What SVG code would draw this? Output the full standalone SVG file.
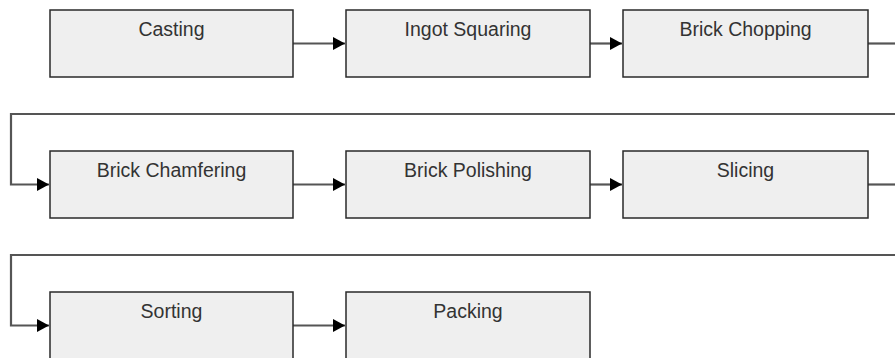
<svg xmlns="http://www.w3.org/2000/svg" width="895" height="358" viewBox="0 0 895 358">
<defs>
<style>
.box{fill:#efefef;stroke:#2a2a2a;stroke-width:1.5}
.lbl{font-family:"Liberation Sans",Arial,sans-serif;font-size:19.5px;fill:#333;text-anchor:middle}
.c{fill:none;stroke:#555;stroke-width:2.2}
</style>
<marker id="ah" viewBox="0 0 12 13" refX="12" refY="6.5" markerWidth="12" markerHeight="13" markerUnits="userSpaceOnUse" orient="auto">
<path d="M0,0 L12,6.5 L0,13 Z" fill="#000"/>
</marker>
</defs>
<rect width="895" height="358" fill="#fff"/>
<g id="connectors">
<path class="c" d="M293,43.5 H345" marker-end="url(#ah)"/>
<path class="c" d="M590,43.5 H622" marker-end="url(#ah)"/>
<path class="c" d="M868,43.5 H895"/>
<path class="c" d="M895,114 H11 V184.5 H49" marker-end="url(#ah)"/>
<path class="c" d="M293,184.5 H345" marker-end="url(#ah)"/>
<path class="c" d="M590,184.5 H622" marker-end="url(#ah)"/>
<path class="c" d="M868,184.5 H895"/>
<path class="c" d="M895,255 H11 V325.5 H49" marker-end="url(#ah)"/>
<path class="c" d="M293,325.5 H345" marker-end="url(#ah)"/>
</g>
<g id="casting"><rect class="box" x="50" y="10" width="243" height="67"/><text class="lbl" x="171.5" y="36">Casting</text></g>
<g id="ingot-squaring"><rect class="box" x="346" y="10" width="244" height="67"/><text class="lbl" x="468" y="36">Ingot Squaring</text></g>
<g id="brick-chopping"><rect class="box" x="623" y="10" width="245" height="67"/><text class="lbl" x="745.5" y="36">Brick Chopping</text></g>
<g id="brick-chamfering"><rect class="box" x="50" y="151" width="243" height="67"/><text class="lbl" x="171.5" y="177">Brick Chamfering</text></g>
<g id="brick-polishing"><rect class="box" x="346" y="151" width="244" height="67"/><text class="lbl" x="468" y="177">Brick Polishing</text></g>
<g id="slicing"><rect class="box" x="623" y="151" width="245" height="67"/><text class="lbl" x="745.5" y="177">Slicing</text></g>
<g id="sorting"><rect class="box" x="50" y="292" width="243" height="67"/><text class="lbl" x="171.5" y="318">Sorting</text></g>
<g id="packing"><rect class="box" x="346" y="292" width="244" height="67"/><text class="lbl" x="468" y="318">Packing</text></g>
</svg>
